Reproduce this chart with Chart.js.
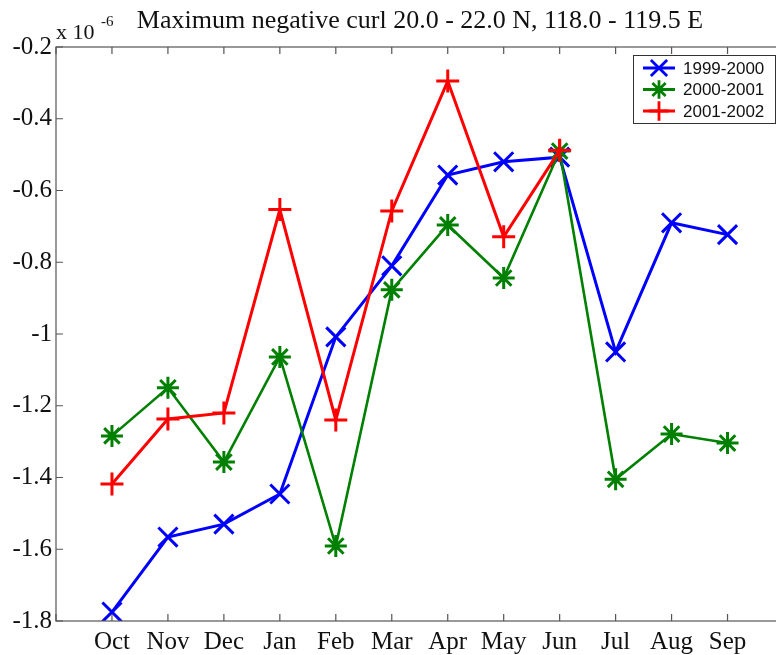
<!DOCTYPE html>
<html>
<head>
<meta charset="utf-8">
<script src="https://cdn.jsdelivr.net/npm/chart.js@4/dist/chart.umd.min.js"></script>
<style>
  html, body { margin: 0; padding: 0; background: #fff; overflow: hidden; }
  #wrap { width: 800px; height: 655px; }
</style>
</head>
<body>
<div id="wrap"><canvas id="curl" width="800" height="655"></canvas></div>
<script>
// month categories (Oct..Sep water year)
var months = ['Oct', 'Nov', 'Dec', 'Jan', 'Feb', 'Mar', 'Apr', 'May', 'Jun', 'Jul', 'Aug', 'Sep'];
// values in units of 1e-6
var curl9900 = [-1.775, -1.566, -1.53, -1.446, -1.008, -0.81, -0.557, -0.52, -0.507, -1.05, -0.69, -0.723];
var curl0001 = [-1.284, -1.15, -1.357, -1.064, -1.591, -0.877, -0.696, -0.844, -0.49, -1.405, -1.279, -1.304];
var curl0102 = [-1.418, -1.237, -1.22, -0.653, -1.24, -0.657, -0.295, -0.729, -0.488];
var yTicks = [-1.8, -1.6, -1.4, -1.2, -1, -0.8, -0.6, -0.4, -0.2];
var seriesNames = ['1999-2000', '2000-2001', '2001-2002'];
var titleText = 'Maximum negative curl 20.0 - 22.0 N, 118.0 - 119.5 E';

function pts(vals) {
  return vals.map(function (v, i) { return { x: i, y: v }; });
}

var SERIF = '"Liberation Serif", "DejaVu Serif", serif';
var SANS = '"Liberation Sans", Arial, sans-serif';

// box, inward ticks, title and legend drawn on top of the chart
var matlabFrame = {
  id: 'matlabFrame',
  afterDraw: function (chart) {
    var ctx = chart.ctx, a = chart.chartArea;
    var xs = chart.scales.x, ys = chart.scales.y;
    ctx.save();
    ctx.strokeStyle = '#555';
    ctx.lineWidth = 1.2;
    ctx.strokeRect(a.left, a.top, a.right - a.left, a.bottom - a.top);
    ctx.beginPath();
    for (var i = -1; i <= 12; i++) {
      var px = xs.getPixelForValue(i);
      ctx.moveTo(px, a.bottom); ctx.lineTo(px, a.bottom - 7);
      ctx.moveTo(px, a.top); ctx.lineTo(px, a.top + 7);
    }
    yTicks.forEach(function (v) {
      var py = ys.getPixelForValue(v);
      ctx.moveTo(a.left, py); ctx.lineTo(a.left + 7, py);
      ctx.moveTo(a.right, py); ctx.lineTo(a.right - 7, py);
    });
    ctx.stroke();

    // title + exponent
    ctx.fillStyle = '#111';
    ctx.textBaseline = 'alphabetic';
    ctx.textAlign = 'center';
    ctx.font = '26px ' + SERIF;
    ctx.fillText(titleText, 420, 28);
    ctx.textAlign = 'left';
    ctx.font = '22px ' + SERIF;
    ctx.fillText('x 10', 56, 39);
    ctx.font = '15px ' + SERIF;
    ctx.fillText('-6', 101, 26);

    // legend
    var lx = 633, ly = 55, lw = 142, lh = 68;
    ctx.fillStyle = '#fff';
    ctx.fillRect(lx, ly, lw, lh);
    ctx.strokeStyle = '#333';
    ctx.lineWidth = 1;
    ctx.strokeRect(lx + 0.5, ly + 0.5, lw, lh);
    chart.data.datasets.forEach(function (ds, k) {
      var yy = ly + 13 + k * 21.5;
      ctx.strokeStyle = ds.borderColor;
      ctx.lineWidth = 3;
      ctx.beginPath();
      ctx.moveTo(lx + 10, yy); ctx.lineTo(lx + 42, yy);
      ctx.stroke();
      ctx.lineWidth = 2.8;
      Chart.helpers.drawPoint(ctx, { pointStyle: ds.pointStyle, radius: ds.pointRadius * 0.85, borderWidth: 2.8 }, lx + 26, yy);
      ctx.fillStyle = '#111';
      ctx.font = '17px ' + SANS;
      ctx.textBaseline = 'middle';
      ctx.fillText(seriesNames[k], lx + 50, yy + 1);
    });
    ctx.restore();
  }
};

function lineSet(label, vals, color, style, radius, width, order) {
  return {
    label: label,
    data: pts(vals),
    borderColor: color,
    backgroundColor: color,
    borderWidth: width,
    pointStyle: style,
    pointRadius: radius,
    pointHoverRadius: radius,
    pointBorderWidth: 3,
    pointBorderColor: color,
    pointBackgroundColor: color,
    tension: 0,
    fill: false,
    order: order
  };
}

new Chart(document.getElementById('curl'), {
  type: 'line',
  data: {
    datasets: [
      lineSet(seriesNames[0], curl9900, '#0000ff', 'crossRot', 13.5, 3, 3),
      lineSet(seriesNames[1], curl0001, '#008000', 'star', 11, 2.6, 2),
      lineSet(seriesNames[2], curl0102, '#ff0000', 'cross', 11.5, 3, 1)
    ]
  },
  options: {
    responsive: false,
    animation: false,
    devicePixelRatio: 1,
    layout: { padding: { top: 47, right: 16, left: 0, bottom: 0 } },
    plugins: { legend: { display: false }, tooltip: { enabled: false }, title: { display: false } },
    scales: {
      x: {
        type: 'linear',
        min: -1,
        max: 12,
        afterFit: function (s) { s.height = 34; },
        afterBuildTicks: function (s) {
          s.ticks = [];
          for (var i = -1; i <= 12; i++) s.ticks.push({ value: i });
        },
        grid: { display: false, drawTicks: false },
        border: { display: false },
        ticks: {
          padding: 6,
          color: '#111',
          font: { family: SERIF, size: 25 },
          maxRotation: 0,
          autoSkip: false,
          callback: function (v) { return months[v] || ''; }
        }
      },
      y: {
        min: -1.8,
        max: -0.2,
        afterFit: function (s) { s.width = 56; },
        afterBuildTicks: function (s) {
          s.ticks = yTicks.map(function (v) { return { value: v }; });
        },
        grid: { display: false, drawTicks: false },
        border: { display: false },
        ticks: {
          padding: 4,
          color: '#111',
          font: { family: SERIF, size: 25 },
          callback: function (v) { return String(Number(v.toFixed(1))); }
        }
      }
    }
  },
  plugins: [matlabFrame]
});
</script>
</body>
</html>
